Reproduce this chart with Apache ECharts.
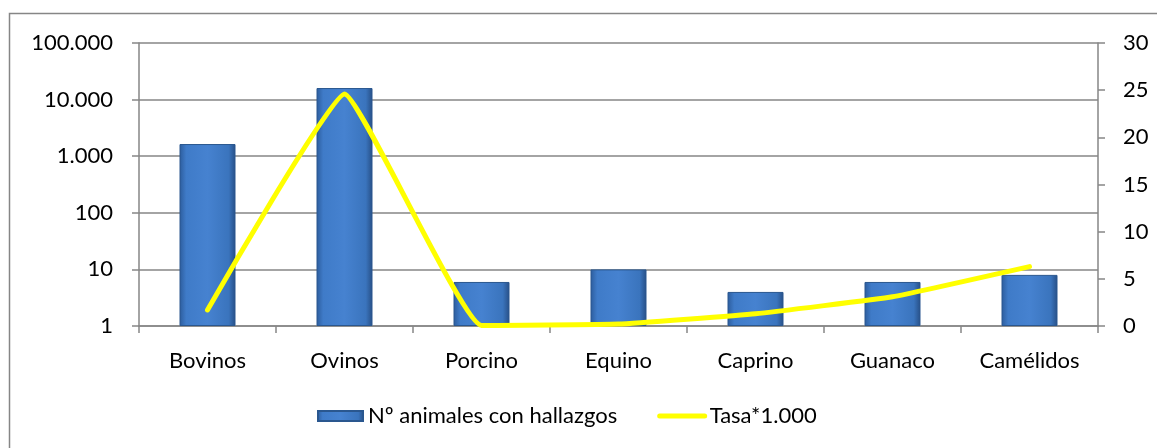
<!DOCTYPE html>
<html>
<head>
<meta charset="utf-8">
<script src="https://cdn.jsdelivr.net/npm/echarts@6/dist/echarts.min.js"></script>
<style>
  html, body { margin: 0; padding: 0; background: #fff; }
  #chart { width: 1157px; height: 448px; }
</style>
</head>
<body>
<div id="chart"></div>
<script>
// categorias y valores
var categorias = ['Bovinos', 'Ovinos', 'Porcino', 'Equino', 'Caprino', 'Guanaco', 'Camélidos'];
var animales = [1640, 16000, 6, 10, 4, 6, 8];
var tasa = [1.7, 24.6, 0.05, 0.2, 1.3, 3.1, 6.3];

var gris = '#868686';
var fuente = 'Lato, "Open Sans", sans-serif';

var barColor = new echarts.graphic.LinearGradient(0, 0, 1, 0, [
  { offset: 0, color: '#2c5c9c' },
  { offset: 0.12, color: '#3f7bc8' },
  { offset: 0.5, color: '#4682d0' },
  { offset: 0.88, color: '#3a74bd' },
  { offset: 1, color: '#274f86' }
]);

var option = {
  animation: false,
  graphic: [{
    type: 'rect',
    shape: { x: 9.5, y: 13.5, width: 1200, height: 500 },
    style: { fill: 'none', stroke: gris, lineWidth: 1.5 },
    silent: true
  }],
  grid: { left: 139, right: 59, top: 43, bottom: 122 },
  legend: {
    bottom: 16,
    left: 312,
    itemGap: 40,
    itemWidth: 45,
    itemHeight: 10,
    textStyle: { fontFamily: fuente, fontSize: 22, color: '#000' },
    data: [
      { name: 'Nº animales con hallazgos', icon: 'rect' },
      { name: 'Tasa*1.000', itemStyle: { opacity: 0 }, lineStyle: { width: 5, color: '#ffff00' } }
    ]
  },
  xAxis: {
    type: 'category',
    data: categorias,
    axisLine: { lineStyle: { color: gris, width: 1.5 } },
    axisTick: { show: true, length: 7, lineStyle: { color: gris, width: 1.5 } },
    axisLabel: { fontFamily: fuente, fontSize: 22, color: '#000', margin: 24 }
  },
  yAxis: [{
    type: 'log',
    logBase: 10,
    min: 1,
    max: 100000,
    axisLine: { show: true, lineStyle: { color: gris, width: 1.5 } },
    axisTick: { show: true, length: 7, lineStyle: { color: gris, width: 1.5 } },
    splitLine: { lineStyle: { color: gris, width: 1.5 } },
    axisLabel: {
      fontFamily: fuente, fontSize: 22, color: '#000', margin: 26,
      formatter: function (v) { return v.toLocaleString('de-DE'); }
    }
  }, {
    type: 'value',
    min: 0,
    max: 30,
    interval: 5,
    position: 'right',
    axisLine: { show: true, lineStyle: { color: gris, width: 1.5 } },
    axisTick: { show: true, length: 7, lineStyle: { color: gris, width: 1.5 } },
    splitLine: { show: false },
    axisLabel: { fontFamily: fuente, fontSize: 22, color: '#000', margin: 25 }
  }],
  series: [{
    name: 'Nº animales con hallazgos',
    type: 'bar',
    yAxisIndex: 0,
    data: animales,
    barWidth: 56,
    itemStyle: { color: barColor, borderColor: '#2a578f', borderWidth: 1 }
  }, {
    name: 'Tasa*1.000',
    type: 'line',
    yAxisIndex: 1,
    data: tasa,
    smooth: 0.1,
    symbol: 'none',
    lineStyle: { color: '#ffff00', width: 5, cap: 'round' },
    itemStyle: { color: '#ffff00' }
  }]
};

var chart = echarts.init(document.getElementById('chart'));
chart.setOption(option);
</script>
</body>
</html>
